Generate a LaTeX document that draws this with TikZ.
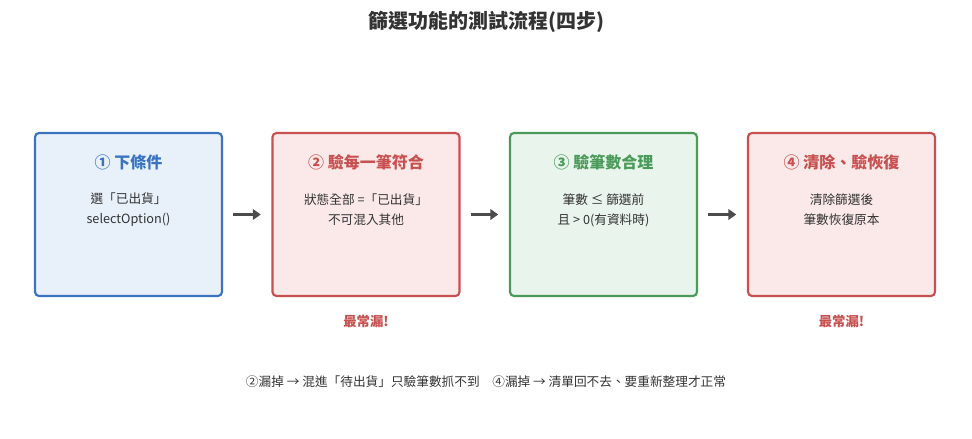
\documentclass[tikz,border=0pt]{standalone}
\usepackage{fontspec}
\setmainfont{Noto Sans CJK TC}
\usetikzlibrary{positioning}
\usetikzlibrary{arrows.meta}
\definecolor{blueB}{HTML}{3A74C0}
\definecolor{blueF}{HTML}{E8F0FA}
\definecolor{redB}{HTML}{C85050}
\definecolor{redF}{HTML}{FBE9E9}
\definecolor{greenB}{HTML}{4A9A5A}
\definecolor{greenF}{HTML}{E9F4EC}
\definecolor{txt}{HTML}{333333}
\tikzset{step/.style={draw=#1B,fill=#1F,line width=1.6pt,rounded corners=3pt,minimum width=140.25pt,minimum height=122.25pt,inner sep=0pt}}
\tikzset{head/.style={font=\fontsize{12}{14}\selectfont\bfseries,text=#1B}}
\tikzset{body/.style={font=\fontsize{9.5}{15}\selectfont,text=txt,align=center}}
\tikzset{go/.style={-{Triangle[length=6pt,width=8pt]},line width=2.2pt,draw=black!70,shorten <=7.5pt,shorten >=8pt}}
\tikzset{warn/.style={font=\fontsize{10}{12}\selectfont\bfseries,text=redB}}
\begin{document}
\begin{tikzpicture}[x=0.75pt,y=-0.75pt]
\useasboundingbox (0,0) rectangle (972,439);

\node[font=\fontsize{15}{18}\selectfont\bfseries,text=txt] (title) at (486,22) {篩選功能的測試流程(四步)};

\node[step=blue] (s1) at (128.5,214.5) {};
\node[step=red] (s2) at (366,214.5) {};
\node[step=green] (s3) at (603.5,214.5) {};
\node[step=red] (s4) at (841.5,214.5) {};

\node[head=blue] (h1) at (128.5,162) {① 下條件};
\node[head=red] (h2) at (366,162) {② 驗每一筆符合};
\node[head=green] (h3) at (603.5,162) {③ 驗筆數合理};
\node[head=red] (h4) at (841.5,162) {④ 清除、驗恢復};

\node[body] (b1) at (128.5,210) {選「已出貨」\\selectOption()};
\node[body] (b2) at (366,210) {狀態全部 =「已出貨」\\不可混入其他};
\node[body] (b3) at (603.5,210) {筆數 ≤ 篩選前\\且 > 0(有資料時)};
\node[body] (b4) at (841.5,210) {清除篩選後\\筆數恢復原本};

\foreach \a/\b in {s1/s2, s2/s3, s3/s4}
  {
 \draw[go] (\a.east) -- (\b.west);
 }

\node[warn] (w2) at (366,321) {最常漏!};
\node[warn] (w4) at (841.5,321) {最常漏!};

\node[font=\fontsize{9.5}{12}\selectfont,text=txt] (note) at (486,382) {②漏掉 → 混進「待出貨」只驗筆數抓不到\quad ④漏掉 → 清單回不去、要重新整理才正常};
\end{tikzpicture}
\end{document}
